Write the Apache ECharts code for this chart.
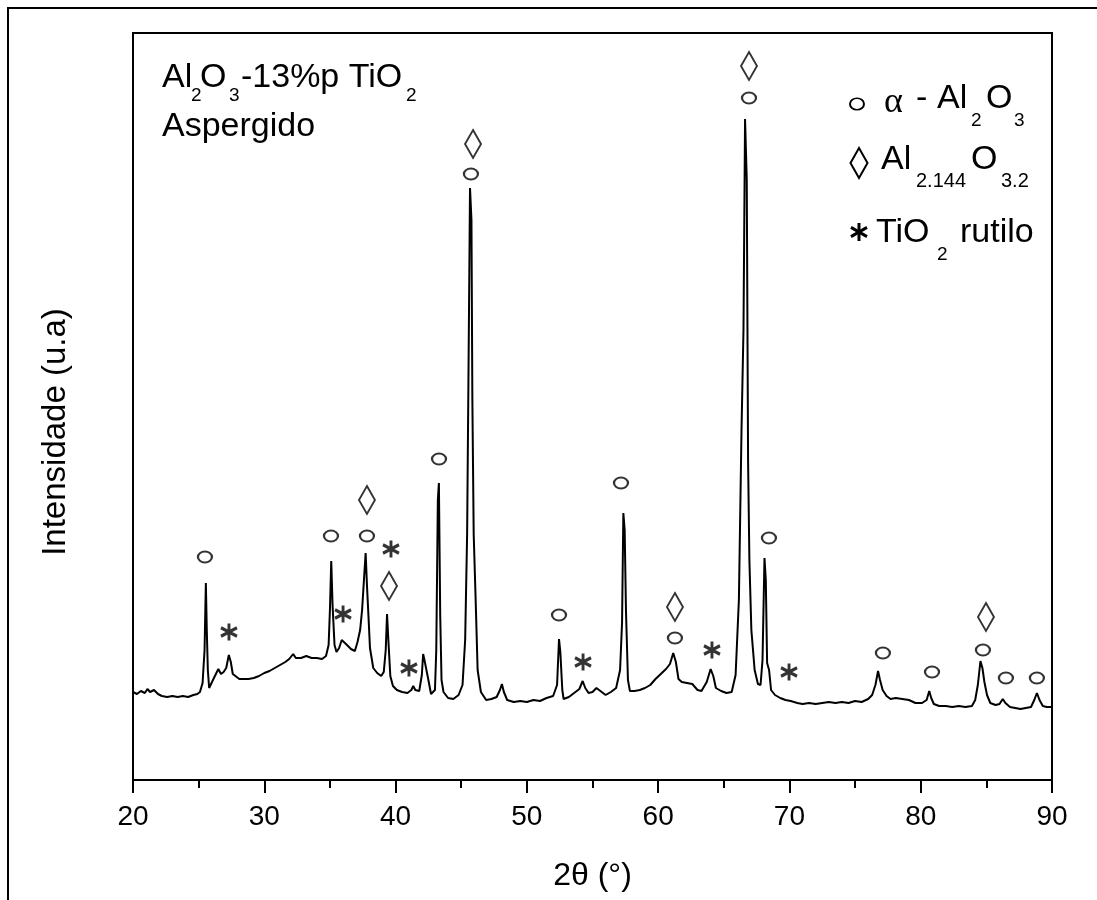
<!DOCTYPE html>
<html>
<head>
<meta charset="utf-8">
<script src="https://cdn.jsdelivr.net/npm/echarts@6/dist/echarts.min.js"></script>
<style>html,body{margin:0;padding:0;background:#fff;}#c{width:1097px;height:900px;}</style>
</head>
<body>
<div id="c"></div>
<script>
// XRD pattern (2θ in degrees, intensity in arbitrary units)
const twoTheta = [20.0,20.3,20.6,20.9,21.1,21.3,21.6,21.9,22.2,22.6,23.0,23.4,23.8,24.2,24.6,24.9,25.1,25.3,25.45,25.55,25.62,25.7,25.8,25.95,26.2,26.5,26.7,26.9,27.1,27.3,27.45,27.6,27.8,28.1,28.4,28.8,29.2,29.6,30.0,30.4,30.8,31.2,31.6,31.9,32.2,32.4,32.8,33.2,33.6,34.0,34.4,34.7,34.9,35.0,35.1,35.2,35.35,35.5,35.7,35.9,36.05,36.3,36.6,36.9,37.1,37.3,37.45,37.6,37.72,37.82,37.95,38.05,38.3,38.6,38.9,39.1,39.25,39.35,39.45,39.6,39.8,40.1,40.5,40.9,41.2,41.35,41.5,41.8,42.0,42.1,42.2,42.35,42.5,42.7,42.85,43.0,43.1,43.22,43.3,43.4,43.5,43.65,44.0,44.4,44.8,45.1,45.3,45.45,45.55,45.67,45.78,45.85,45.95,46.1,46.25,46.5,46.9,47.3,47.7,47.95,48.1,48.25,48.5,49.0,49.5,50.0,50.5,51.0,51.5,52.0,52.3,52.45,52.55,52.7,52.8,53.2,53.6,54.0,54.25,54.45,54.7,55.0,55.3,55.6,56.0,56.4,56.8,57.1,57.25,57.35,57.45,57.55,57.7,57.85,58.2,58.6,59.0,59.4,59.8,60.2,60.6,60.9,61.15,61.35,61.55,61.8,62.2,62.6,63.0,63.3,63.7,64.0,64.2,64.4,64.8,65.2,65.6,65.9,66.15,66.35,66.5,66.62,66.75,66.85,66.95,67.1,67.35,67.6,67.8,67.95,68.1,68.2,68.3,68.45,68.6,68.9,69.3,69.7,70.1,70.6,71.0,71.5,72.0,72.5,73.0,73.5,74.0,74.5,75.0,75.5,76.0,76.3,76.55,76.75,76.9,77.1,77.4,77.7,78.1,78.6,79.1,79.6,80.1,80.45,80.65,80.8,81.0,81.4,81.9,82.4,82.9,83.4,83.9,84.15,84.35,84.55,84.7,84.85,85.05,85.3,85.7,86.0,86.25,86.45,86.8,87.2,87.6,88.0,88.4,88.65,88.85,89.05,89.3,89.6,90.0];
const intensity = [88,86,89,87,91,88,90,86,84,83,84,83,84,83,85,86,88,97,130,197,150,110,92,94,103,111,106,108,112,125,118,106,104,101,101,101,102,104,107,109,112,115,118,121,126,122,122,124,122,122,121,124,135,170,219,175,135,128,132,140,142,135,131,129,138,150,170,202,227,195,160,132,112,107,104,108,130,166,140,104,94,90,88,87,90,94,90,89,105,126,120,110,100,86,84,90,130,280,297,165,100,88,82,81,85,95,140,246,400,592,560,380,246,180,110,88,80,81,83,90,96,88,80,78,79,78,80,79,82,84,95,141,128,90,81,83,87,91,99,92,87,88,92,89,85,88,92,110,157,267,250,169,100,89,89,90,92,95,101,106,111,116,127,118,101,98,97,96,90,89,98,111,104,92,89,87,88,105,180,350,450,661,600,320,220,150,110,96,95,120,222,200,117,110,90,85,82,80,79,77,76,77,76,77,78,77,78,77,79,78,81,85,95,109,100,90,84,81,82,81,80,77,77,80,89,82,76,74,74,73,74,73,74,80,95,119,112,98,85,77,75,76,81,77,73,72,71,72,73,80,87,80,74,73,73];

// Phase identification markers (2θ position, label height)
const alphaAl2O3X = [25.48,35.08,37.82,43.31,45.74,52.45,57.17,61.28,66.92,68.44,77.12,80.86,84.74,86.49,88.85];
const alphaAl2O3Y = [223,244,244,321,606,165,297,142,682,242,127,108,130,102,102];
const al2144X = [37.82,39.5,45.9,61.28,66.92,84.97];
const al2144Y = [280,194,636,173,714,163];
const rutileX = [27.31,36.0,39.65,41.02,54.28,64.1,69.97];
const rutileY = [148,166,231,112,118,130,108];

const xTicks = [20,30,40,50,60,70,80,90];

const pts = (xs, ys) => xs.map((x, i) => [x, ys[i]]);
const INK = '#000';
const FONT = "'Liberation Sans', Arial, sans-serif";
const NARROW = "'Liberation Sans Narrow', 'Arial Narrow', 'Liberation Sans', sans-serif";
const ASTER = 'path://M10,0L10,20M1.34,5L18.66,15M1.34,15L18.66,5';

const chart = echarts.init(document.getElementById('c'), null, {renderer: 'canvas'});

function txt(x, y, text, size, family) {
  return {
    type: 'text', x: x, y: y, silent: true,
    style: {text: text, fill: '#000', font: size + 'px ' + (family || FONT), verticalAlign: 'middle', align: 'left'}
  };
}

const graphics = [
  // outer frame
  {type: 'polyline', silent: true, shape: {points: [[8, 900], [8, 8], [1097, 8]]}, style: {stroke: '#000', lineWidth: 2, fill: 'none'}},
  // sample label
  txt(162, 78, 'Al', 34), txt(191, 96, '2', 19), txt(200, 78, 'O', 34), txt(229, 96, '3', 19),
  txt(241, 78, '-13%p TiO', 34), txt(406, 96, '2', 19),
  txt(162, 127, 'Aspergido', 34),
  // y axis title
  {type: 'text', x: 56, y: 432, rotation: Math.PI / 2, silent: true,
   style: {text: 'Intensidade (u.a)', fill: '#000', font: '33px ' + FONT, align: 'center', verticalAlign: 'middle'}},
  // legend row 1
  {type: 'circle', x: 857, y: 104, scaleY: 0.82, silent: true, shape: {r: 7}, style: {fill: 'none', stroke: INK, lineWidth: 2}},
  txt(884, 103, 'α', 36, "'Liberation Serif', serif"),
  txt(916, 99, '-', 34), txt(937, 99, 'Al', 34), txt(971, 121, '2', 19), txt(986, 99, 'O', 34), txt(1014, 121, '3', 19),
  // legend row 2
  {type: 'polygon', silent: true, shape: {points: [[859, 148], [867.5, 163], [859, 178], [850.5, 163]]}, style: {fill: 'none', stroke: INK, lineWidth: 2}},
  txt(881, 160, 'Al', 34), txt(916, 181, '2.144', 20), txt(971, 160, 'O', 34), txt(1001, 181, '3.2', 20),
  // legend row 3
  {type: 'group', x: 859, y: 232, silent: true, children: [
    {type: 'line', shape: {x1: 0, y1: -9, x2: 0, y2: 9}, style: {stroke: INK, lineWidth: 3}},
    {type: 'line', shape: {x1: -8, y1: -4.6, x2: 8, y2: 4.6}, style: {stroke: INK, lineWidth: 3}},
    {type: 'line', shape: {x1: -8, y1: 4.6, x2: 8, y2: -4.6}, style: {stroke: INK, lineWidth: 3}}
  ]},
  txt(876, 233, 'TiO', 34), txt(937, 255, '2', 19), txt(960, 233, 'rutilo', 34)
];

const option = {
  animation: false,
  backgroundColor: '#fff',
  grid: {left: 133, right: 45, top: 33, bottom: 120, show: true, borderColor: '#000', borderWidth: 2, backgroundColor: 'transparent'},
  xAxis: {
    type: 'value', min: 20, max: 90, interval: 10,
    name: '2θ (°)', nameLocation: 'middle', nameGap: 80,
    nameTextStyle: {fontFamily: NARROW, fontSize: 32, color: '#000'},
    axisLine: {show: true, onZero: false, lineStyle: {color: '#000', width: 2}},
    axisTick: {show: true, inside: false, length: 13, lineStyle: {color: '#000', width: 2}},
    minorTick: {show: true, splitNumber: 2, length: 8, lineStyle: {color: '#000', width: 2}},
    splitLine: {show: false},
    axisLabel: {fontFamily: NARROW, fontSize: 28, color: '#000', margin: 23,
      formatter: v => xTicks.includes(v) ? String(v) : ''}
  },
  yAxis: {
    type: 'value', min: 0, max: 747,
    axisLine: {show: true, lineStyle: {color: '#000', width: 2}},
    axisTick: {show: false}, axisLabel: {show: false}, splitLine: {show: false}
  },
  series: [
    {type: 'line', data: pts(twoTheta, intensity), showSymbol: false, silent: true,
     lineStyle: {color: '#000', width: 2}, z: 3},
    {type: 'scatter', data: pts(alphaAl2O3X, alphaAl2O3Y), symbol: 'circle', symbolSize: [14, 11], silent: true,
     itemStyle: {color: 'rgba(0,0,0,0)', borderColor: INK, borderWidth: 2}, z: 4},
    {type: 'scatter', data: pts(al2144X, al2144Y), symbol: 'diamond', symbolSize: [16, 28], silent: true,
     itemStyle: {color: 'rgba(0,0,0,0)', borderColor: INK, borderWidth: 2}, z: 4},
    {type: 'scatter', data: pts(rutileX, rutileY), symbol: ASTER, symbolSize: [16, 17], silent: true,
     itemStyle: {color: 'rgba(0,0,0,0)', borderColor: INK, borderWidth: 3}, z: 4}
  ],
  graphic: graphics
};
chart.setOption(option);
</script>
</body>
</html>
